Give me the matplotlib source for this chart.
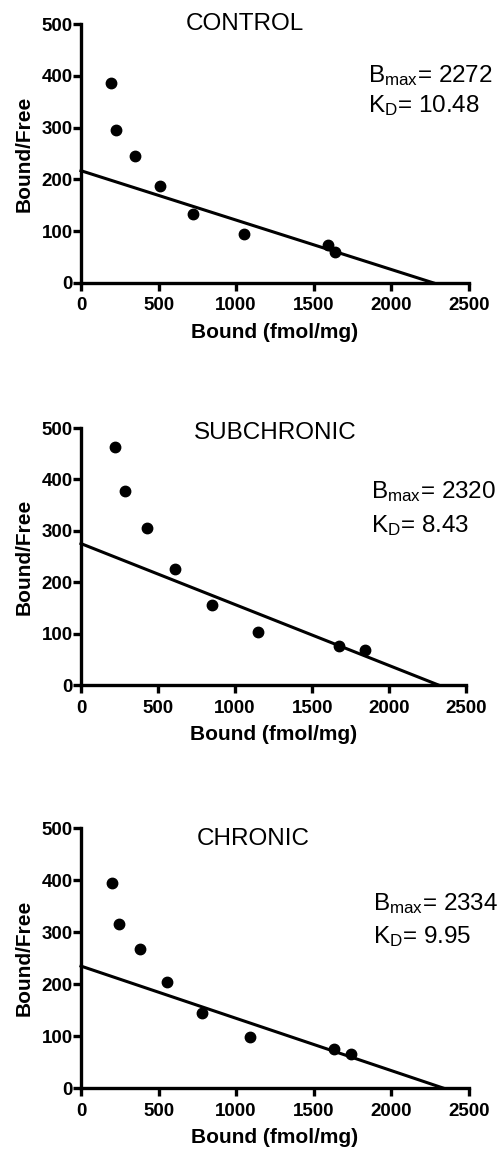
import matplotlib
matplotlib.use('Agg')
import matplotlib.pyplot as plt
import numpy as np

plt.rcParams['font.family'] = ['Liberation Sans', 'DejaVu Sans']
plt.rcParams['mathtext.default'] = 'regular'

titles = ['CONTROL', 'SUBCHRONIC', 'CHRONIC']
bmax = [2272, 2320, 2334]
kd = [10.48, 8.43, 9.95]

control_bound = [191, 225, 345, 511, 725, 1052, 1592, 1635]
control_bf = [386, 295, 246, 188, 134, 95, 74, 60]
subchronic_bound = [223, 288, 427, 613, 851, 1148, 1677, 1846]
subchronic_bf = [463, 378, 305, 225, 156, 103, 76, 68]
chronic_bound = [197, 242, 382, 556, 779, 1088, 1633, 1738]
chronic_bf = [394, 316, 267, 204, 144, 99, 76, 65]

bound = [control_bound, subchronic_bound, chronic_bound]
bf = [control_bf, subchronic_bf, chronic_bf]

fig = plt.figure(figsize=(5.03, 11.5), dpi=100)

# axes boxes in figure fraction (left, bottom, width, height)
boxes = [(0.161, 0.754, 0.771, 0.225),
         (0.161, 0.4043, 0.766, 0.2235),
         (0.161, 0.0539, 0.771, 0.226)]
title_pos = [(0.423, 1.0), (0.503, 0.98), (0.443, 0.96)]
stat_pos = [(0.74, 0.776, 0.66), (0.753, 0.728, 0.595), (0.753, 0.685, 0.558)]

for i in range(3):
    ax = fig.add_axes(boxes[i])
    ax.plot(bound[i], bf[i], 'o', color='black', markersize=7.5, clip_on=False, zorder=3)
    ax.plot([0, bmax[i]], [bmax[i] / kd[i], 0], color='black', lw=2.2, clip_on=False)
    ax.set_xlim(0, 2500)
    ax.set_ylim(0, 500)
    ax.set_xticks(np.arange(0, 2501, 500))
    ax.set_yticks(np.arange(0, 501, 100))
    for s in ['top', 'right']:
        ax.spines[s].set_visible(False)
    for s in ['left', 'bottom']:
        ax.spines[s].set_linewidth(2.4)
    ax.tick_params(width=2.4, length=5.5, labelsize=13.5)
    ax.tick_params(axis='x', pad=5)
    ax.tick_params(axis='y', pad=0.5)
    for t in ax.get_xticklabels() + ax.get_yticklabels():
        t.set_fontweight('bold')
    ax.set_xlabel('Bound (fmol/mg)', fontsize=15, fontweight='bold', labelpad=6)
    ax.set_ylabel('Bound/Free', fontsize=15, fontweight='bold', labelpad=6)
    ax.text(title_pos[i][0], title_pos[i][1], titles[i], transform=ax.transAxes,
            ha='center', va='center', fontsize=17.5)
    ax.text(stat_pos[i][0], stat_pos[i][1], 'B$_{max}$= %d' % bmax[i],
            transform=ax.transAxes, ha='left', va='baseline', fontsize=17.5)
    ax.text(stat_pos[i][0], stat_pos[i][2], 'K$_{D}$= %g' % kd[i],
            transform=ax.transAxes, ha='left', va='baseline', fontsize=17.5)

plt.savefig('out.png', dpi=100)
